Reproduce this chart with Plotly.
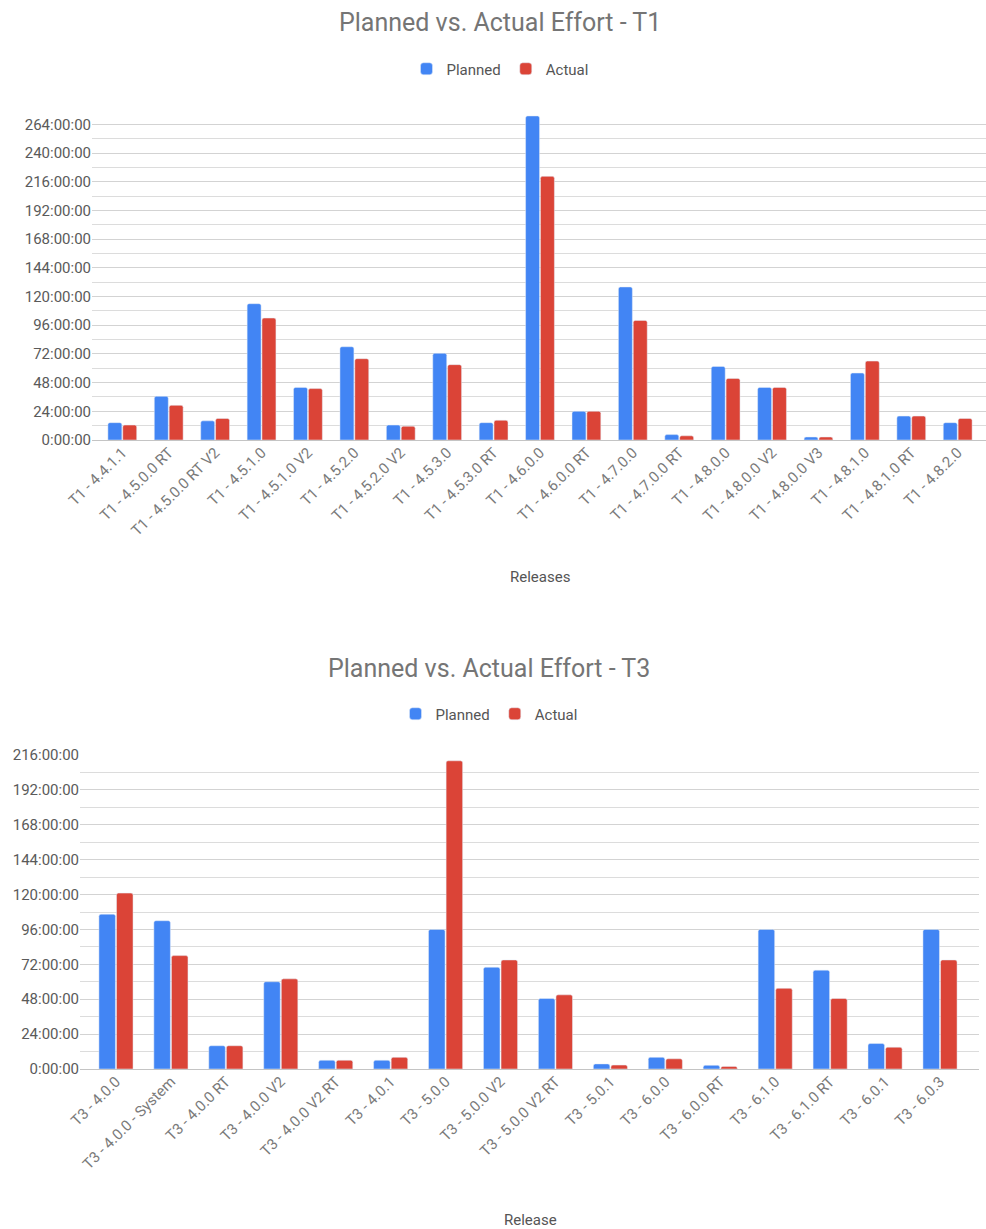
import plotly.graph_objects as go

# ---- T1 releases: planned vs actual effort (hours) ----
t1_releases = [
    "T1 - 4.4.1.1", "T1 - 4.5.0.0 RT", "T1 - 4.5.0.0 RT V2", "T1 - 4.5.1.0",
    "T1 - 4.5.1.0 V2", "T1 - 4.5.2.0", "T1 - 4.5.2.0 V2", "T1 - 4.5.3.0",
    "T1 - 4.5.3.0 RT", "T1 - 4.6.0.0", "T1 - 4.6.0.0 RT", "T1 - 4.7.0.0",
    "T1 - 4.7.0.0 RT", "T1 - 4.8.0.0", "T1 - 4.8.0.0 V2", "T1 - 4.8.0.0 V3",
    "T1 - 4.8.1.0", "T1 - 4.8.1.0 RT", "T1 - 4.8.2.0",
]
t1_planned = [14.5, 36.5, 16, 114, 44, 78, 12.5, 72.5, 14.5, 271,
              24, 128, 4.5, 61.5, 44, 2.5, 56, 20, 14.5]
t1_actual = [12.5, 29, 18, 102, 43, 68, 11.5, 63, 16.5, 220.5,
             24, 100, 3.5, 51.5, 44, 2.5, 66, 20, 18]

# ---- T3 releases: planned vs actual effort (hours) ----
t3_releases = [
    "T3 - 4.0.0", "T3 - 4.0.0 - System", "T3 - 4.0.0 RT", "T3 - 4.0.0 V2",
    "T3 - 4.0.0 V2 RT", "T3 - 4.0.1", "T3 - 5.0.0", "T3 - 5.0.0 V2",
    "T3 - 5.0.0 V2 RT", "T3 - 5.0.1", "T3 - 6.0.0", "T3 - 6.0.0 RT",
    "T3 - 6.1.0", "T3 - 6.1.0 RT", "T3 - 6.0.1", "T3 - 6.0.3",
]
t3_planned = [106.5, 102, 16, 60, 6, 6, 96, 70, 48.5, 3.5,
              8, 2.5, 96, 68, 17.5, 96]
t3_actual = [121, 78, 16, 62, 6, 8, 212, 75, 51, 2.7,
             7, 1.8, 55.5, 48.5, 15, 75]

# Axis tick values (hours), labelled as h:mm:ss durations
t1_ticks = [0, 24, 48, 72, 96, 120, 144, 168, 192, 216, 240, 264]
t3_ticks = [0, 24, 48, 72, 96, 120, 144, 168, 192, 216]

BLUE = "#4285F4"
RED = "#DB4437"
FONT = "Roboto"
W, H = 986, 1229


def dur(h):
    return f"{h}:00:00"


fig = go.Figure()

fig.add_trace(go.Bar(x=t1_releases, y=t1_planned, name="Planned", marker_color=BLUE,
                     xaxis="x", yaxis="y", legend="legend"))
fig.add_trace(go.Bar(x=t1_releases, y=t1_actual, name="Actual", marker_color=RED,
                     xaxis="x", yaxis="y", legend="legend"))
fig.add_trace(go.Bar(x=t3_releases, y=t3_planned, name="Planned", marker_color=BLUE,
                     xaxis="x2", yaxis="y2", legend="legend2"))
fig.add_trace(go.Bar(x=t3_releases, y=t3_actual, name="Actual", marker_color=RED,
                     xaxis="x2", yaxis="y2", legend="legend2"))


def py(px):
    """Convert a pixel row (from top) to paper y."""
    return 1 - px / H


grid = dict(showgrid=True, gridcolor="#d3d3d3", gridwidth=1)
minor = dict(dtick=12, tick0=0, showgrid=True, gridcolor="#dcdcdc", gridwidth=1)
ytick_font = dict(family=FONT, size=15, color="#5a5a5a")
xtick_font = dict(family=FONT, size=15, color="#7a7a7a")

xcommon = dict(type="category", tickangle=-45, tickfont=xtick_font, automargin=False,
               showgrid=False, showline=False, ticks="", ticklen=0)
ycommon = dict(tickmode="array", tickfont=ytick_font, automargin=False,
               zeroline=True, zerolinecolor="#c4c4c4", zerolinewidth=1,
               minor=minor, ticks="", **grid)

fig.update_layout(
    width=W, height=H,
    margin=dict(l=0, r=0, t=0, b=0, autoexpand=False),
    paper_bgcolor="white", plot_bgcolor="white",
    barmode="group", bargap=0.36, bargroupgap=0.06,
    barcornerradius=2,
    font=dict(family=FONT),
    xaxis=dict(domain=[92 / W, 1.0], anchor="y", range=[-0.653, 18.61], **xcommon),
    yaxis=dict(domain=[py(440), py(110)], anchor="x", range=[0, 276],
               tickvals=t1_ticks, ticktext=[dur(v) for v in t1_ticks], **ycommon),
    xaxis2=dict(domain=[80 / W, 979 / W], anchor="y2", range=[-0.655, 15.71], **xcommon),
    yaxis2=dict(domain=[py(1069), py(755)], anchor="x2", range=[0, 216],
                tickvals=t3_ticks, ticktext=[dur(v) for v in t3_ticks], **ycommon),
    legend=dict(orientation="h", x=500 / W, y=py(69), xanchor="center", yanchor="middle",
                font=dict(family=FONT, size=15, color="#555555"),
                bgcolor="rgba(0,0,0,0)"),
    legend2=dict(orientation="h", x=489 / W, y=py(714), xanchor="center", yanchor="middle",
                 font=dict(family=FONT, size=15, color="#555555"),
                 bgcolor="rgba(0,0,0,0)"),
)

title_font = dict(family=FONT, size=25, color="#757575")
axis_title_font = dict(family=FONT, size=15, color="#555555")
fig.add_annotation(text="Planned vs. Actual Effort - T1", xref="paper", yref="paper",
                   x=500 / W, y=py(23), xanchor="center", yanchor="middle",
                   showarrow=False, font=title_font)
fig.add_annotation(text="Planned vs. Actual Effort - T3", xref="paper", yref="paper",
                   x=489 / W, y=py(668), xanchor="center", yanchor="middle",
                   showarrow=False, font=title_font)
fig.add_annotation(text="Releases", xref="paper", yref="paper",
                   x=540 / W, y=py(577), xanchor="center", yanchor="middle",
                   showarrow=False, font=axis_title_font)
fig.add_annotation(text="Release", xref="paper", yref="paper",
                   x=530 / W, y=py(1220), xanchor="center", yanchor="middle",
                   showarrow=False, font=axis_title_font)

fig.write_html("out.html")
